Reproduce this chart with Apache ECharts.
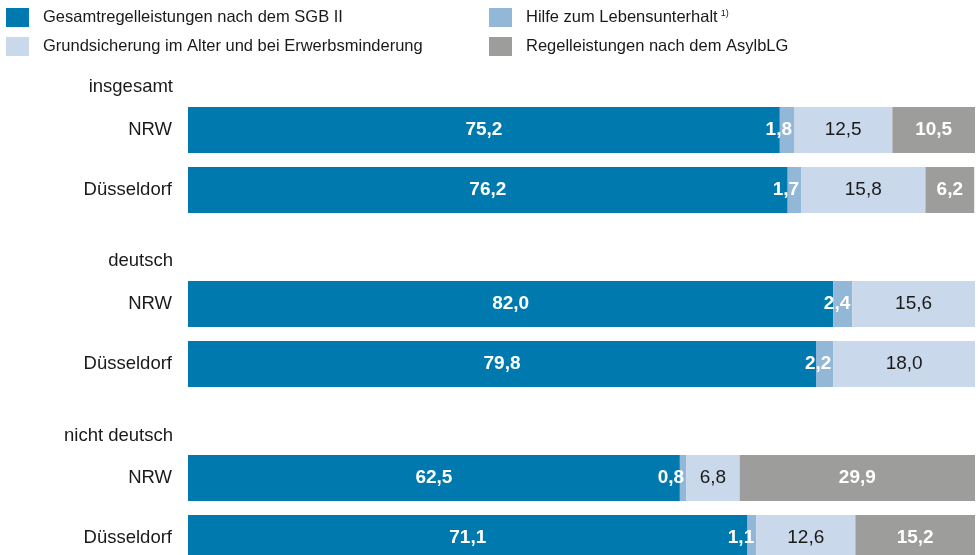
<!DOCTYPE html>
<html>
<head>
<meta charset="utf-8">
<script src="https://cdn.jsdelivr.net/npm/echarts@6/dist/echarts.min.js"></script>
<style>
  html, body { margin: 0; padding: 0; background: #fff; }
  #main { width: 979px; height: 555px; }
</style>
</head>
<body>
<div id="main"></div>
<script>
// Daten
var groups = ['insgesamt', 'deutsch', 'nicht deutsch'];
var regions = ['NRW', 'Düsseldorf'];
var seriesNames = ['Gesamtregelleistungen nach dem SGB II', 'Hilfe zum Lebensunterhalt',
    'Grundsicherung im Alter und bei Erwerbsminderung', 'Regelleistungen nach dem AsylbLG'];
// je Gruppe: [NRW, Düsseldorf]
var sgb2 = [[75.2, 76.2], [82.0, 79.8], [62.5, 71.1]];
var hlu = [[1.8, 1.7], [2.4, 2.2], [0.8, 1.1]];
var grundsicherung = [[12.5, 15.8], [15.6, 18.0], [6.8, 12.6]];
var asylblg = [[10.5, 6.2], [null, null], [29.9, 15.2]];

var colors = ['#007aae', '#93b7d7', '#c9d8eb', '#9d9d9c'];
var font = 'Liberation Sans, Arial, sans-serif';
var gridTops = [100, 274, 448];
var headerY = [77, 251, 426];

var chart = echarts.init(document.getElementById('main'));

function fmt(p) {
    return p.value == null ? '' : p.value.toFixed(1).replace('.', ',');
}

var grids = [], xAxes = [], yAxes = [], series = [], graphics = [];
var allData = [sgb2, hlu, grundsicherung, asylblg];

groups.forEach(function (g, gi) {
    // Höhe 120 je Block (zwei Balken à 60 px), unterer Block läuft über den Rand
    grids.push({ left: 188, right: 4, top: gridTops[gi], height: 120, outerBoundsMode: 'none' });
    xAxes.push({ type: 'value', gridIndex: gi, min: 0, max: 100, show: false });
    yAxes.push({
        type: 'category', gridIndex: gi, inverse: true, data: regions,
        axisLine: { show: false }, axisTick: { show: false },
        axisLabel: { fontSize: 18.5, color: '#1a1a1a', fontFamily: font, margin: 16 }
    });
    graphics.push({
        type: 'text', right: 979 - 173, top: headerY[gi],
        style: { text: g, fill: '#1a1a1a', font: '18.5px ' + font }
    });
    allData.forEach(function (arr, si) {
        var label;
        if (si === 1) {
            label = { show: true, position: 'insideRight', distance: 2, color: '#fff', fontWeight: 'bold' };
        } else if (si === 2) {
            label = { show: true, position: 'inside', color: '#1a1a1a' };
        } else {
            label = { show: true, position: 'inside', color: '#fff', fontWeight: 'bold' };
        }
        label.fontSize = 19;
        label.fontFamily = font;
        label.formatter = fmt;
        series.push({
            name: seriesNames[si],
            type: 'bar',
            stack: 'g' + gi,
            xAxisIndex: gi,
            yAxisIndex: gi,
            barWidth: 46,
            itemStyle: { color: colors[si] },
            label: label,
            silent: true,
            data: arr[gi]
        });
    });
});

var legendText = {
    fontSize: 16.5, color: '#1a1a1a', fontFamily: font, padding: [0, 0, 0, 9],
    rich: { sup: { fontSize: 9, verticalAlign: 'top', padding: [0, 0, 8, 3], fontFamily: font } }
};

chart.setOption({
    animation: false,
    legend: [
        {
            left: 6, top: 8, padding: 0, orient: 'vertical', itemWidth: 23, itemHeight: 19, itemGap: 10,
            icon: 'rect', data: [seriesNames[0], seriesNames[2]], textStyle: legendText, selectedMode: false
        },
        {
            left: 489, top: 8, padding: 0, orient: 'vertical', itemWidth: 23, itemHeight: 19, itemGap: 10,
            icon: 'rect', data: [seriesNames[1], seriesNames[3]], textStyle: legendText, selectedMode: false,
            formatter: function (name) {
                return name === seriesNames[1] ? name + '{sup|1)}' : name;
            }
        }
    ],
    grid: grids,
    xAxis: xAxes,
    yAxis: yAxes,
    graphic: graphics,
    series: series
});
</script>
</body>
</html>
